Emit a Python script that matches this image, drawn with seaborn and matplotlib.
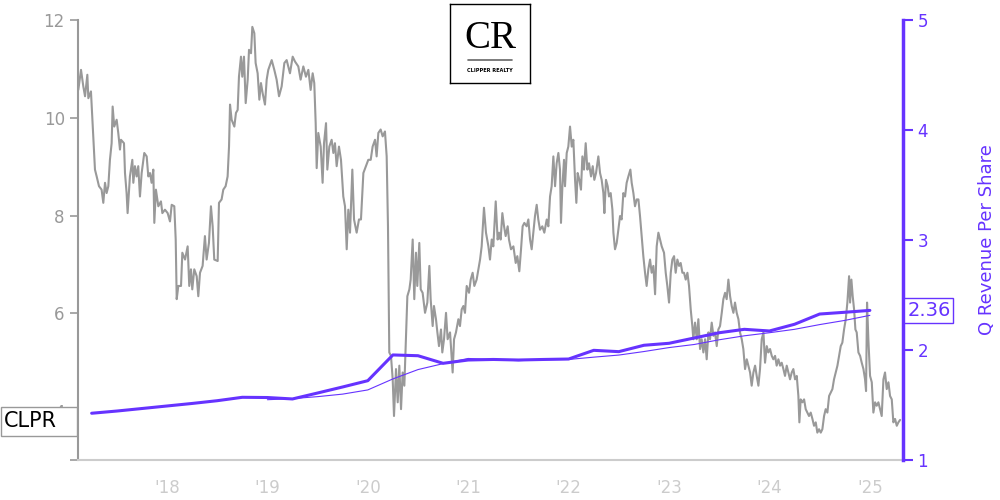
import matplotlib
matplotlib.use("Agg")
import matplotlib.pyplot as plt
import seaborn as sns
from matplotlib.patches import Rectangle
from matplotlib.transforms import blended_transform_factory

# CLPR close price (decimal year, USD)
price_year = [
    2017.117, 2017.144, 2017.167, 2017.184, 2017.207, 2017.217, 2017.243, 2017.256, 2017.283, 2017.300,
    2017.323, 2017.349, 2017.366, 2017.383, 2017.399, 2017.416, 2017.432, 2017.449, 2017.459, 2017.475,
    2017.499, 2017.515, 2017.532, 2017.542, 2017.572, 2017.582, 2017.598, 2017.608, 2017.631, 2017.655,
    2017.665, 2017.681, 2017.698, 2017.714, 2017.731, 2017.748, 2017.774, 2017.798, 2017.814, 2017.831,
    2017.847, 2017.864, 2017.874, 2017.890, 2017.914, 2017.940, 2017.954, 2017.980, 2018.007, 2018.030,
    2018.047, 2018.073, 2018.087, 2018.097, 2018.113, 2018.140, 2018.153, 2018.180, 2018.206, 2018.222,
    2018.239, 2018.252, 2018.272, 2018.296, 2018.312, 2018.329, 2018.355, 2018.378, 2018.395, 2018.418,
    2018.438, 2018.455, 2018.471, 2018.505, 2018.518, 2018.544, 2018.561, 2018.584, 2018.604, 2018.618,
    2018.628, 2018.644, 2018.671, 2018.687, 2018.704, 2018.717, 2018.737, 2018.750, 2018.767, 2018.784,
    2018.804, 2018.817, 2018.837, 2018.850, 2018.870, 2018.883, 2018.903, 2018.920, 2018.936, 2018.953,
    2018.976, 2018.993, 2019.009, 2019.043, 2019.069, 2019.092, 2019.116, 2019.142, 2019.169, 2019.192,
    2019.225, 2019.252, 2019.275, 2019.308, 2019.331, 2019.358, 2019.384, 2019.408, 2019.431, 2019.451,
    2019.467, 2019.481, 2019.491, 2019.507, 2019.531, 2019.550, 2019.564, 2019.584, 2019.597, 2019.617,
    2019.640, 2019.657, 2019.673, 2019.690, 2019.713, 2019.733, 2019.756, 2019.773, 2019.790, 2019.806,
    2019.823, 2019.846, 2019.863, 2019.889, 2019.912, 2019.932, 2019.956, 2019.982, 2020.005, 2020.029,
    2020.048, 2020.072, 2020.088, 2020.105, 2020.128, 2020.148, 2020.171, 2020.188, 2020.201, 2020.214,
    2020.231, 2020.248, 2020.261, 2020.281, 2020.298, 2020.314, 2020.331, 2020.347, 2020.364, 2020.381,
    2020.394, 2020.414, 2020.427, 2020.447, 2020.463, 2020.480, 2020.493, 2020.513, 2020.527, 2020.546,
    2020.570, 2020.593, 2020.613, 2020.626, 2020.646, 2020.659, 2020.679, 2020.693, 2020.709, 2020.729,
    2020.742, 2020.759, 2020.779, 2020.795, 2020.819, 2020.845, 2020.859, 2020.878, 2020.902, 2020.918,
    2020.935, 2020.952, 2020.968, 2020.985, 2021.008, 2021.025, 2021.044, 2021.061, 2021.084, 2021.101,
    2021.118, 2021.134, 2021.157, 2021.177, 2021.201, 2021.217, 2021.234, 2021.250, 2021.274, 2021.293,
    2021.307, 2021.323, 2021.340, 2021.357, 2021.373, 2021.393, 2021.406, 2021.426, 2021.450, 2021.473,
    2021.489, 2021.509, 2021.526, 2021.542, 2021.559, 2021.582, 2021.599, 2021.616, 2021.632, 2021.649,
    2021.665, 2021.682, 2021.698, 2021.715, 2021.738, 2021.758, 2021.782, 2021.798, 2021.815, 2021.831,
    2021.848, 2021.865, 2021.881, 2021.898, 2021.914, 2021.924, 2021.938, 2021.954, 2021.964, 2021.981,
    2021.997, 2022.014, 2022.031, 2022.047, 2022.064, 2022.077, 2022.090, 2022.107, 2022.123, 2022.137,
    2022.153, 2022.170, 2022.187, 2022.203, 2022.223, 2022.240, 2022.256, 2022.273, 2022.296, 2022.313,
    2022.329, 2022.346, 2022.356, 2022.372, 2022.389, 2022.402, 2022.419, 2022.436, 2022.446, 2022.462,
    2022.479, 2022.495, 2022.512, 2022.528, 2022.545, 2022.562, 2022.578, 2022.595, 2022.615, 2022.628,
    2022.645, 2022.661, 2022.678, 2022.695, 2022.711, 2022.728, 2022.744, 2022.761, 2022.777, 2022.794,
    2022.811, 2022.827, 2022.844, 2022.861, 2022.877, 2022.894, 2022.910, 2022.927, 2022.950, 2022.967,
    2022.983, 2023.000, 2023.017, 2023.033, 2023.050, 2023.066, 2023.083, 2023.100, 2023.116, 2023.133,
    2023.149, 2023.166, 2023.183, 2023.199, 2023.216, 2023.232, 2023.242, 2023.259, 2023.276, 2023.292,
    2023.309, 2023.325, 2023.342, 2023.359, 2023.375, 2023.392, 2023.408, 2023.425, 2023.442, 2023.458,
    2023.475, 2023.491, 2023.508, 2023.525, 2023.541, 2023.558, 2023.574, 2023.591, 2023.608, 2023.624,
    2023.641, 2023.657, 2023.674, 2023.691, 2023.707, 2023.724, 2023.740, 2023.757, 2023.774, 2023.790,
    2023.807, 2023.823, 2023.840, 2023.857, 2023.873, 2023.890, 2023.906, 2023.923, 2023.940, 2023.956,
    2023.973, 2023.989, 2024.006, 2024.023, 2024.039, 2024.056, 2024.072, 2024.089, 2024.106, 2024.122,
    2024.139, 2024.155, 2024.172, 2024.189, 2024.205, 2024.222, 2024.238, 2024.255, 2024.272, 2024.288,
    2024.298, 2024.311, 2024.328, 2024.345, 2024.361, 2024.378, 2024.394, 2024.411, 2024.428, 2024.444,
    2024.461, 2024.477, 2024.494, 2024.511, 2024.527, 2024.544, 2024.560, 2024.577, 2024.594, 2024.610,
    2024.627, 2024.643, 2024.660, 2024.677, 2024.693, 2024.710, 2024.726, 2024.743, 2024.760, 2024.776,
    2024.793, 2024.803, 2024.816, 2024.829, 2024.843, 2024.856, 2024.869, 2024.886, 2024.903, 2024.919,
    2024.936, 2024.952, 2024.962, 2024.972, 2024.985, 2025.002, 2025.019, 2025.035, 2025.052, 2025.068,
    2025.085, 2025.102, 2025.118, 2025.135, 2025.151, 2025.168, 2025.185, 2025.201, 2025.218, 2025.234,
    2025.251, 2025.268, 2025.284, 2025.301,
]
price_close = [
    10.57, 10.98, 10.64, 10.44, 10.88, 10.40, 10.54, 10.03, 8.94, 8.80,
    8.60, 8.53, 8.26, 8.67, 8.46, 8.60, 9.14, 9.48, 10.23, 9.82,
    9.96, 9.69, 9.35, 9.55, 9.48, 8.87, 8.46, 8.05, 8.80, 9.14,
    8.67, 9.01, 8.80, 9.01, 8.39, 8.87, 9.28, 9.21, 8.80, 8.87,
    8.67, 8.94, 7.85, 8.53, 8.19, 8.29, 8.05, 8.12, 8.05, 7.88,
    8.22, 8.19, 7.51, 6.29, 6.56, 6.56, 7.24, 7.10, 7.37, 6.56,
    6.90, 6.49, 6.90, 6.76, 6.35, 6.83, 6.97, 7.58, 7.10, 7.44,
    8.19, 7.78, 7.10, 7.07, 8.26, 8.33, 8.53, 8.60, 8.80, 9.41,
    10.27, 9.96, 9.82, 10.10, 10.16, 10.84, 11.25, 10.84, 11.25, 10.30,
    10.78, 11.39, 11.32, 11.86, 11.73, 11.12, 10.91, 10.37, 10.71, 10.50,
    10.27, 10.78, 10.98, 11.18, 10.98, 10.78, 10.44, 10.64, 11.12, 11.18,
    10.91, 11.25, 11.15, 11.05, 10.78, 11.05, 10.84, 10.98, 10.57, 10.91,
    10.71, 9.89, 8.97, 9.69, 9.41, 8.67, 9.48, 9.89, 8.94, 9.41,
    9.55, 9.28, 9.48, 9.01, 9.41, 9.14, 8.39, 8.19, 7.31, 8.12,
    7.65, 8.94, 7.92, 7.65, 7.92, 7.92, 8.87, 9.01, 9.14, 9.14,
    9.41, 9.55, 9.21, 9.69, 9.76, 9.62, 9.72, 9.21, 7.78, 5.20,
    5.13, 4.65, 3.90, 4.86, 4.18, 4.93, 4.04, 4.79, 4.52, 5.54,
    6.35, 6.49, 6.69, 7.51, 6.29, 7.24, 6.56, 7.44, 6.49, 6.42,
    6.01, 6.22, 6.97, 6.29, 5.74, 6.15, 5.88, 5.61, 5.33, 5.67,
    5.20, 5.47, 6.01, 5.47, 5.61, 4.79, 5.47, 5.61, 5.88, 5.74,
    6.08, 6.15, 6.01, 6.56, 6.42, 6.69, 6.83, 6.56, 6.69, 6.90,
    7.10, 7.37, 8.16, 7.65, 7.37, 7.10, 7.51, 7.37, 8.29, 7.51,
    7.65, 7.51, 8.05, 7.78, 7.58, 7.78, 7.51, 7.31, 7.37, 7.03,
    7.17, 6.86, 7.31, 7.78, 7.85, 7.78, 7.92, 7.51, 7.31, 7.65,
    7.99, 8.22, 7.92, 7.71, 7.78, 7.65, 7.92, 7.78, 8.39, 8.60,
    9.21, 8.60, 9.07, 9.28, 8.94, 7.85, 8.60, 9.14, 8.60, 9.28,
    9.41, 9.82, 9.41, 9.55, 8.73, 8.26, 8.87, 8.73, 8.53, 9.21,
    8.94, 9.48, 8.94, 9.07, 8.80, 9.01, 8.73, 8.87, 9.21, 8.87,
    8.73, 8.46, 8.05, 8.73, 8.60, 8.39, 8.46, 8.12, 7.65, 7.31,
    7.44, 7.71, 7.99, 7.92, 8.46, 8.39, 8.67, 8.80, 8.94, 8.67,
    8.46, 8.19, 8.33, 8.33, 7.99, 7.58, 7.17, 6.83, 6.56, 6.90,
    7.10, 6.83, 6.97, 6.39, 7.37, 7.65, 7.51, 7.37, 7.24, 6.83,
    6.56, 6.22, 6.83, 7.10, 7.17, 6.83, 7.10, 6.97, 7.03, 6.83,
    6.83, 6.69, 6.83, 6.56, 6.08, 5.74, 5.47, 5.81, 5.47, 5.88,
    5.27, 5.47, 5.20, 5.47, 5.06, 5.61, 5.47, 5.81, 5.54, 5.61,
    5.33, 5.67, 5.74, 6.01, 6.29, 6.42, 6.29, 6.69, 6.35, 6.15,
    6.01, 6.22, 6.01, 5.88, 5.61, 5.47, 5.27, 4.86, 5.06, 4.93,
    4.79, 4.52, 4.79, 4.93, 4.72, 4.52, 4.86, 5.47, 5.61, 4.99,
    5.33, 5.20, 5.27, 5.13, 5.06, 5.13, 4.93, 5.06, 4.93, 4.99,
    4.86, 4.72, 4.93, 4.79, 4.65, 4.79, 4.86, 4.65, 4.72, 4.31,
    3.77, 4.24, 4.18, 4.24, 4.04, 3.97, 3.90, 3.97, 3.84, 3.70,
    3.77, 3.56, 3.63, 3.56, 3.63, 3.90, 4.04, 3.97, 4.31, 4.38,
    4.45, 4.65, 4.79, 4.93, 5.13, 5.33, 5.40, 5.67, 5.88, 6.22,
    6.76, 6.22, 6.69, 6.35, 6.08, 5.67, 5.61, 5.20, 5.13, 4.99,
    4.86, 4.65, 4.41, 6.22, 5.47, 4.72, 4.59, 3.97, 4.18, 4.11,
    4.18, 4.04, 3.90, 4.65, 4.79, 4.45, 4.59, 4.31, 4.24, 3.77,
    3.84, 3.70, 3.77, 3.82,
]

# quarterly revenue per share
rev_year = [
    2017.25, 2017.50, 2017.75, 2018.00, 2018.25, 2018.50, 2018.75, 2019.00,
    2019.25, 2019.50, 2019.75, 2020.00, 2020.25, 2020.50, 2020.75, 2021.00,
    2021.25, 2021.50, 2021.75, 2022.00, 2022.25, 2022.50, 2022.75, 2023.00,
    2023.25, 2023.50, 2023.75, 2024.00, 2024.25, 2024.50, 2024.75, 2025.00,
]
rev_q = [
    1.425, 1.445, 1.468, 1.491, 1.514, 1.539, 1.570, 1.568,
    1.555, 1.609, 1.664, 1.721, 1.955, 1.948, 1.879, 1.909,
    1.914, 1.909, 1.914, 1.918, 1.997, 1.985, 2.043, 2.061,
    2.109, 2.157, 2.188, 2.173, 2.234, 2.327, 2.343, 2.360,
]
# trailing 4-quarter average, shown from 2019 on
avg_year = rev_year[7:]
avg_q = [
    1.548, 1.558, 1.576, 1.599, 1.637, 1.737, 1.822, 1.876,
    1.923, 1.913, 1.903, 1.912, 1.914, 1.935, 1.954, 1.986,
    2.022, 2.050, 2.093, 2.129, 2.157, 2.188, 2.231, 2.269, 2.315,
]

year_ticks = [2018, 2019, 2020, 2021, 2022, 2023, 2024, 2025]
year_labels = ["'18", "'19", "'20", "'21", "'22", "'23", "'24", "'25"]

PURPLE = "#6633ff"
GRAY = "#999999"
LIGHT = "#cccccc"

sns.set_style("white")
plt.rcParams["font.family"] = "DejaVu Sans"

fig = plt.figure(figsize=(10, 5), dpi=100)
ax = fig.add_axes([0.078, 0.08, 0.825, 0.88])
ax2 = ax.twinx()

sns.lineplot(x=price_year, y=price_close, ax=ax, color=GRAY, linewidth=1.5)
sns.lineplot(x=avg_year, y=avg_q, ax=ax2, color=PURPLE, linewidth=0.8)
sns.lineplot(x=rev_year, y=rev_q, ax=ax2, color=PURPLE, linewidth=2.2)

ax.set_xlim(2017.114, 2025.33)
ax.set_ylim(3, 12)
ax2.set_ylim(1, 5)

# left axis
ax.set_yticks([4, 6, 8, 10, 12])
ax.set_yticks([3], minor=True)
ax.tick_params(axis="y", which="both", colors=GRAY, labelsize=12, length=6, width=1.2)
ax.spines["left"].set_color(GRAY)
ax.spines["left"].set_linewidth(1.5)
ax.spines["top"].set_visible(False)
ax.spines["right"].set_visible(False)
ax.spines["bottom"].set_color(LIGHT)
ax.spines["bottom"].set_linewidth(1.5)

# bottom axis
ax.set_xticks(year_ticks)
ax.set_xticklabels(year_labels)
ax.set_xticks([2017.114], minor=True)
ax.tick_params(axis="x", which="both", colors=LIGHT, labelsize=12, length=10, width=1.2,
               labelcolor=LIGHT)
ax.set_xlabel("")
ax.set_ylabel("")

# right axis
ax2.set_yticks([1, 2, 3, 4, 5])
ax2.tick_params(axis="y", colors=PURPLE, labelsize=12, length=7, width=1.5)
for side in ["left", "top", "bottom"]:
    ax2.spines[side].set_visible(False)
ax2.spines["right"].set_color(PURPLE)
ax2.spines["right"].set_linewidth(2.5)
ax2.set_ylabel("Q Revenue Per Share", color=PURPLE, fontsize=13, labelpad=36)

# ticker tag on the left margin, at the last close
last = price_close[-1]
tag_tr = blended_transform_factory(fig.transFigure, ax.transData)
fig.add_artist(Rectangle((0.001, last - 0.32), 0.076, 0.58, transform=tag_tr,
                         fc="white", ec=GRAY, lw=1, zorder=5))
fig.text(0.004, last - 0.03, "CLPR", transform=tag_tr, ha="left", va="center",
         fontsize=15, color="black", zorder=6)

# last revenue tag on the right spine
ax2.annotate(f"{rev_q[-1]:.2f}", xy=(1, rev_q[-1]), xycoords=("axes fraction", "data"),
             xytext=(3, 0), textcoords="offset points", ha="left", va="center",
             fontsize=14, color=PURPLE,
             bbox=dict(boxstyle="square,pad=0.15", fc="white", ec=PURPLE, lw=1))

# logo
logo = fig.add_axes([0.45, 0.834, 0.08, 0.158])
logo.set_xlim(0, 1)
logo.set_ylim(0, 1)
logo.set_xticks([])
logo.set_yticks([])
for s in logo.spines.values():
    s.set_color("black")
    s.set_linewidth(1)
logo.text(0.5, 0.56, "CR", ha="center", va="center", fontsize=28,
          family="Liberation Serif", color="black")
logo.plot([0.22, 0.78], [0.29, 0.29], color="#666666", lw=1.2)
logo.text(0.5, 0.16, "CLIPPER REALTY", ha="center", va="center", fontsize=3.6,
          fontweight="bold", color="black")

fig.savefig("out.png", dpi=100)
